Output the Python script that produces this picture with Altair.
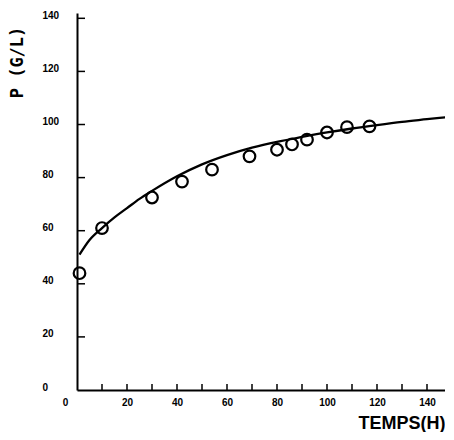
import altair as alt
import pandas as pd

# Fitted curve
curve_x = [1, 5, 10, 15, 20, 25, 30, 40, 50, 60, 70, 80, 90, 100, 110, 120, 130, 140, 150]
curve_y = [51, 56.5, 61, 65, 68.5, 72, 75, 80.5, 85, 88.5, 91.3, 93.5, 95.3, 97, 98.5, 99.8, 101, 102, 103]

# Observed points
obs_x = [1, 10, 30, 42, 54, 69, 80, 86, 92, 100, 108, 117]
obs_y = [44, 61, 72.5, 78.5, 83, 88, 90.5, 92.5, 94.3, 97, 99, 99.3]

x_tick_labels = [0, 20, 40, 60, 80, 100, 120, 140]
y_tick_labels = [0, 20, 40, 60, 80, 100, 120, 140]
x_minor_ticks = [10, 20, 30, 40, 50, 60, 70, 80, 90, 100, 110, 120, 130, 140]
y_minor_ticks = [20, 40, 60, 80, 100, 120, 140]

W, H = 368, 377
xs = alt.Scale(domain=[0, 147.2], nice=False)
ys = alt.Scale(domain=[0, 142], nice=False)
FONT = "Liberation Sans"

curve_df = pd.DataFrame({"t": curve_x, "p": curve_y})
obs_df = pd.DataFrame({"t": obs_x, "p": obs_y})
xt_df = pd.DataFrame({"t": x_minor_ticks})
yt_df = pd.DataFrame({"p": y_minor_ticks})

x_axis = alt.Axis(
    values=x_tick_labels, tickSize=0, grid=False, domainColor="black", domainWidth=2,
    labelFont=FONT, labelFontSize=10, labelFontWeight="bold", labelColor="black",
    labelPadding=7, labelFlush=False,
    labelOffset={"condition": {"test": "datum.value == 0", "value": -12}, "value": 0},
    title="TEMPS(H)", titleFont=FONT, titleFontSize=18, titleFontWeight="bold",
    titleColor="black", titleX=W, titleY=38, titleAlign="right", titleBaseline="alphabetic",
)
y_axis = alt.Axis(
    values=y_tick_labels, tickSize=0, grid=False, domainColor="black", domainWidth=2,
    labelFont=FONT, labelFontSize=10, labelFontWeight="bold", labelColor="black",
    labelAlign="left", labelBaseline="middle", labelPadding=35, labelOffset=-3, labelFlush=False,
    title="P (G/L)", titleFont="DejaVu Sans Mono", titleFontSize=17, titleFontWeight="bold",
    titleColor="black", titleAngle=270, titleX=-60, titleY=49, titleAlign="center",
    titleBaseline="middle",
)

X = alt.X("t:Q", scale=xs, axis=x_axis)
Y = alt.Y("p:Q", scale=ys, axis=y_axis)

curve = alt.Chart(curve_df).mark_line(color="black", strokeWidth=2.3, interpolate="monotone",
                                      clip=True).encode(x=X, y=Y)
points = alt.Chart(obs_df).mark_point(shape="circle", filled=False, size=135, strokeWidth=2.2,
                                      color="black", opacity=1).encode(x=X, y=Y)
xticks = alt.Chart(xt_df).mark_rule(color="black", strokeWidth=1.5).encode(
    x=X, y=alt.value(H), y2=alt.value(H - 6),
)
yticks = alt.Chart(yt_df).mark_rule(color="black", strokeWidth=1.5).encode(
    y=Y, x=alt.value(0), x2=alt.value(8),
)

chart = alt.layer(curve, points, xticks, yticks).properties(
    width=W, height=H,
    autosize=alt.AutoSizeParams(type="none"),
    padding={"left": 69, "top": 5, "right": 0, "bottom": 42},
    background="white",
).configure_view(stroke=None)

chart.save("out.html", embed_options={"renderer": "svg", "actions": False})
